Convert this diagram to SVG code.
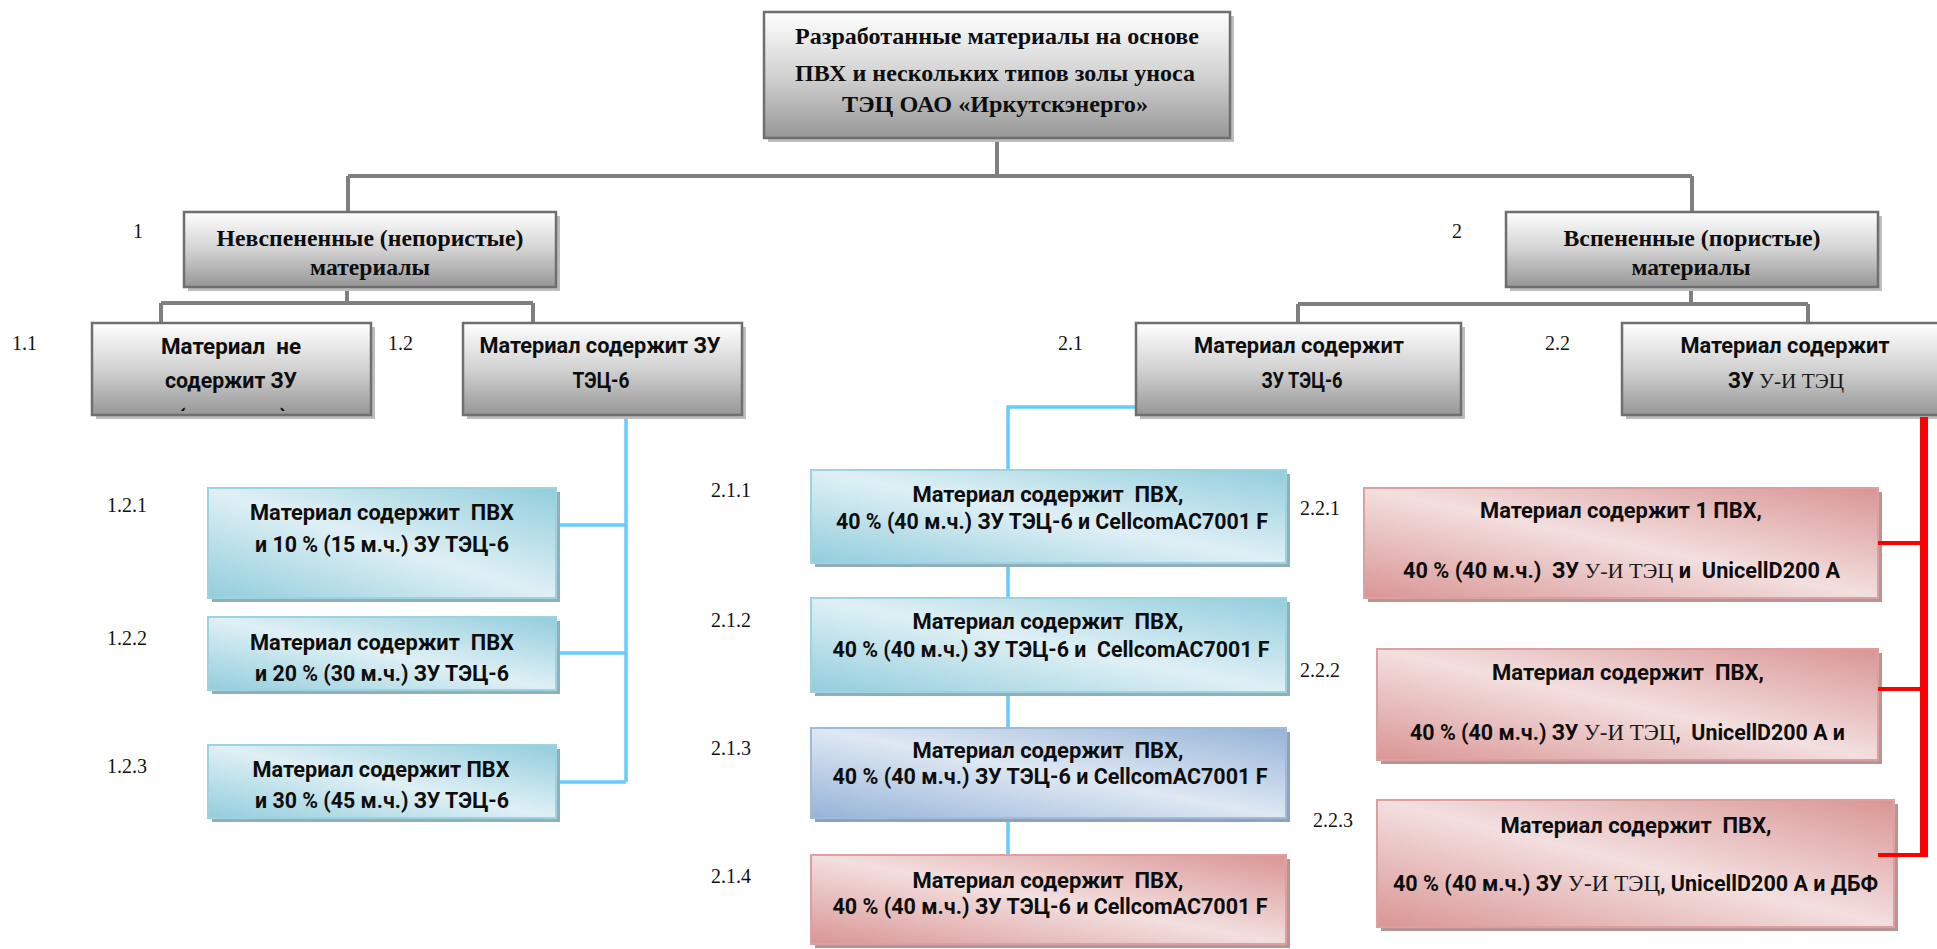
<svg xmlns="http://www.w3.org/2000/svg" width="1937" height="949" viewBox="0 0 1937 949">
<style>
text { white-space: pre; }
.sb { font-family: Roboto, "Liberation Sans", sans-serif; font-weight: 700; font-size: 21.5px; fill: #0d0d0d; }
.sr { font-family: "Liberation Serif", "DejaVu Serif", serif; font-weight: 400; fill: #1a1a1a; }
.tb { font-family: "Liberation Serif", "DejaVu Serif", serif; font-weight: 700; font-size: 23px; fill: #0d0d0d; }
.lbl { font-family: "Liberation Serif", "DejaVu Serif", serif; font-size: 20px; fill: #111; }
.gbox { fill: url(#gGray); stroke: #6f6f6f; stroke-width: 2.5; }
.gsh { fill: #bdbdbd; }
.tbox { fill: url(#gTeal); stroke: #9dd3e1; stroke-width: 2; }
.tsh { fill: #90afba; }
.bbox { fill: url(#gBlue); stroke: #9fbadb; stroke-width: 2; }
.bsh { fill: #8ea2bb; }
.pbox { fill: url(#gPink); stroke: #dca0a0; stroke-width: 2; }
.psh { fill: #b69595; }
.cg { fill: none; stroke: #7f7f7f; stroke-width: 4; }
.cb { fill: none; stroke: #66ccff; stroke-width: 3.5; }
.cr { fill: none; stroke: #ff0000; stroke-width: 4; }
</style>
<defs>
<linearGradient id="gGray" x1="0" y1="0" x2="0" y2="1">
<stop offset="0" stop-color="#ffffff"/>
<stop offset="0.5" stop-color="#d2d2d2"/>
<stop offset="1" stop-color="#979797"/>
</linearGradient>
<linearGradient id="gTeal" x1="0" y1="1" x2="1" y2="0">
<stop offset="0" stop-color="#92cddc"/>
<stop offset="0.5" stop-color="#dff0f5"/>
<stop offset="1" stop-color="#92cddc"/>
</linearGradient>
<linearGradient id="gBlue" x1="0" y1="1" x2="1" y2="0">
<stop offset="0" stop-color="#95b3d7"/>
<stop offset="0.5" stop-color="#dfe8f3"/>
<stop offset="1" stop-color="#95b3d7"/>
</linearGradient>
<linearGradient id="gPink" x1="0" y1="1" x2="1" y2="0">
<stop offset="0" stop-color="#d99594"/>
<stop offset="0.5" stop-color="#f3dfdf"/>
<stop offset="1" stop-color="#d99594"/>
</linearGradient>
<clipPath id="clip11"><rect x="92" y="323" width="279" height="88"/></clipPath>
</defs>

<g id="connectors">
<path class="cg" d="M997,140 V176 M348,176 H1692 M348,176 V212 M1692,176 V212"/>
<path class="cg" d="M347,289 V303 M161,303 H533 M161,303 V323 M533,303 V323"/>
<path class="cg" d="M1691,289 V304 M1298,304 H1808 M1298,304 V323 M1808,304 V323"/>
<path class="cb" d="M626,417 V782 M556,525 H626 M556,653 H626 M556,782 H626"/>
<path class="cb" d="M1136,407 H1008 V470 M1008,563 V598 M1008,692 V728 M1008,818 V855"/>
</g>

<g id="n-root">
<rect class="gsh" x="768" y="16" width="466" height="126"/>
<rect class="gbox" x="764" y="12" width="466" height="126"/>
<text class="tb" x="997" y="44" text-anchor="middle" textLength="404" lengthAdjust="spacingAndGlyphs">Разработанные материалы на основе</text>
<text class="tb" x="995" y="81" text-anchor="middle" textLength="400" lengthAdjust="spacingAndGlyphs">ПВХ и нескольких типов золы уноса</text>
<text class="tb" x="995" y="112" text-anchor="middle" textLength="306" lengthAdjust="spacingAndGlyphs">ТЭЦ ОАО «Иркутскэнерго»</text>
</g>

<g id="n-1">
<rect class="gsh" x="188" y="216" width="372" height="75"/>
<rect class="gbox" x="184" y="212" width="372" height="75"/>
<text class="tb" x="370" y="246" text-anchor="middle" textLength="307" lengthAdjust="spacingAndGlyphs">Невспененные (непористые)</text>
<text class="tb" x="370" y="275" text-anchor="middle" textLength="120" lengthAdjust="spacingAndGlyphs">материалы</text>
<text class="lbl" x="133" y="238">1</text>
</g>

<g id="n-2">
<rect class="gsh" x="1510" y="216" width="372" height="75"/>
<rect class="gbox" x="1506" y="212" width="372" height="75"/>
<text class="tb" x="1692" y="246" text-anchor="middle" textLength="257" lengthAdjust="spacingAndGlyphs">Вспененные (пористые)</text>
<text class="tb" x="1691" y="275" text-anchor="middle" textLength="119" lengthAdjust="spacingAndGlyphs">материалы</text>
<text class="lbl" x="1452" y="238">2</text>
</g>

<g id="n-1-1">
<rect class="gsh" x="96" y="327" width="279" height="92"/>
<rect class="gbox" x="92" y="323" width="279" height="92"/>
<text class="sb" x="231" y="354" text-anchor="middle" textLength="140" lengthAdjust="spacingAndGlyphs">Материал  не</text>
<text class="sb" x="231" y="388" text-anchor="middle" textLength="132" lengthAdjust="spacingAndGlyphs">содержит ЗУ</text>
<g clip-path="url(#clip11)">
<text class="sb" x="178" y="425">(</text>
<text class="sb" x="280" y="425">)</text>
</g>
<text class="lbl" x="12" y="350">1.1</text>
</g>

<g id="n-1-2">
<rect class="gsh" x="467" y="327" width="279" height="92"/>
<rect class="gbox" x="463" y="323" width="279" height="92"/>
<text class="sb" x="600" y="353" text-anchor="middle" textLength="241" lengthAdjust="spacingAndGlyphs">Материал содержит ЗУ</text>
<text class="sb" x="601" y="388" text-anchor="middle" textLength="57" lengthAdjust="spacingAndGlyphs">ТЭЦ-6</text>
<text class="lbl" x="388" y="350">1.2</text>
</g>

<g id="n-2-1">
<rect class="gsh" x="1140" y="327" width="325" height="92"/>
<rect class="gbox" x="1136" y="323" width="325" height="92"/>
<text class="sb" x="1299" y="353" text-anchor="middle" textLength="210" lengthAdjust="spacingAndGlyphs">Материал содержит</text>
<text class="sb" x="1302" y="388" text-anchor="middle" textLength="81" lengthAdjust="spacingAndGlyphs">ЗУ ТЭЦ-6</text>
<text class="lbl" x="1058" y="350">2.1</text>
</g>

<g id="n-2-2">
<rect class="gsh" x="1626" y="327" width="330" height="92"/>
<rect class="gbox" x="1622" y="323" width="330" height="92"/>
<text class="sb" x="1785" y="353" text-anchor="middle" textLength="209" lengthAdjust="spacingAndGlyphs">Материал содержит</text>
<text class="sb" x="1728" y="388" textLength="116" lengthAdjust="spacingAndGlyphs">ЗУ <tspan class="sr" font-size="22">У-И ТЭЦ</tspan></text>
<text class="lbl" x="1545" y="350">2.2</text>
</g>

<g id="n-1-2-1">
<rect class="tsh" x="212" y="492" width="348" height="110"/>
<rect class="tbox" x="208" y="488" width="348" height="110"/>
<text class="sb" x="382" y="520" text-anchor="middle" textLength="264" lengthAdjust="spacingAndGlyphs">Материал содержит  ПВХ</text>
<text class="sb" x="382" y="552" text-anchor="middle" textLength="254" lengthAdjust="spacingAndGlyphs">и 10 % (15 м.ч.) ЗУ ТЭЦ-6</text>
<text class="lbl" x="107" y="512">1.2.1</text>
</g>

<g id="n-1-2-2">
<rect class="tsh" x="212" y="621" width="348" height="73"/>
<rect class="tbox" x="208" y="617" width="348" height="73"/>
<text class="sb" x="382" y="650" text-anchor="middle" textLength="264" lengthAdjust="spacingAndGlyphs">Материал содержит  ПВХ</text>
<text class="sb" x="382" y="681" text-anchor="middle" textLength="254" lengthAdjust="spacingAndGlyphs">и 20 % (30 м.ч.) ЗУ ТЭЦ-6</text>
<text class="lbl" x="107" y="645">1.2.2</text>
</g>

<g id="n-1-2-3">
<rect class="tsh" x="212" y="749" width="348" height="73"/>
<rect class="tbox" x="208" y="745" width="348" height="73"/>
<text class="sb" x="381" y="777" text-anchor="middle" textLength="257" lengthAdjust="spacingAndGlyphs">Материал содержит ПВХ</text>
<text class="sb" x="382" y="808" text-anchor="middle" textLength="254" lengthAdjust="spacingAndGlyphs">и 30 % (45 м.ч.) ЗУ ТЭЦ-6</text>
<text class="lbl" x="107" y="773">1.2.3</text>
</g>

<g id="n-2-1-1">
<rect class="tsh" x="815" y="474" width="475" height="93"/>
<rect class="tbox" x="811" y="470" width="475" height="93"/>
<text class="sb" x="1048" y="502" text-anchor="middle" textLength="271" lengthAdjust="spacingAndGlyphs">Материал содержит  ПВХ,</text>
<text class="sb" x="1052" y="529" text-anchor="middle" textLength="432" lengthAdjust="spacingAndGlyphs">40 % (40 м.ч.) ЗУ ТЭЦ-6 и CellcomAC7001 F</text>
<text class="lbl" x="711" y="497">2.1.1</text>
</g>

<g id="n-2-1-2">
<rect class="tsh" x="815" y="602" width="475" height="94"/>
<rect class="tbox" x="811" y="598" width="475" height="94"/>
<text class="sb" x="1048" y="629" text-anchor="middle" textLength="271" lengthAdjust="spacingAndGlyphs">Материал содержит  ПВХ,</text>
<text class="sb" x="1051" y="657" text-anchor="middle" textLength="437" lengthAdjust="spacingAndGlyphs">40 % (40 м.ч.) ЗУ ТЭЦ-6 и  CellcomAC7001 F</text>
<text class="lbl" x="711" y="627">2.1.2</text>
</g>

<g id="n-2-1-3">
<rect class="bsh" x="815" y="732" width="475" height="90"/>
<rect class="bbox" x="811" y="728" width="475" height="90"/>
<text class="sb" x="1048" y="758" text-anchor="middle" textLength="271" lengthAdjust="spacingAndGlyphs">Материал содержит  ПВХ,</text>
<text class="sb" x="1050" y="784" text-anchor="middle" textLength="435" lengthAdjust="spacingAndGlyphs">40 % (40 м.ч.) ЗУ ТЭЦ-6 и CellcomAC7001 F</text>
<text class="lbl" x="711" y="755">2.1.3</text>
</g>

<g id="n-2-1-4">
<rect class="psh" x="815" y="859" width="475" height="89"/>
<rect class="pbox" x="811" y="855" width="475" height="89"/>
<text class="sb" x="1048" y="888" text-anchor="middle" textLength="271" lengthAdjust="spacingAndGlyphs">Материал содержит  ПВХ,</text>
<text class="sb" x="1050" y="914" text-anchor="middle" textLength="435" lengthAdjust="spacingAndGlyphs">40 % (40 м.ч.) ЗУ ТЭЦ-6 и CellcomAC7001 F</text>
<text class="lbl" x="711" y="883">2.1.4</text>
</g>

<g id="n-2-2-1">
<rect class="psh" x="1368" y="492" width="514" height="110"/>
<rect class="pbox" x="1364" y="488" width="514" height="110"/>
<text class="sb" x="1621" y="518" text-anchor="middle" textLength="282" lengthAdjust="spacingAndGlyphs">Материал содержит 1 ПВХ,</text>
<text class="sb" x="1403" y="578" textLength="437" lengthAdjust="spacingAndGlyphs">40 % (40 м.ч.)  ЗУ <tspan class="sr" font-size="22">У-И ТЭЦ</tspan> и  UnicellD200 A</text>
<text class="lbl" x="1300" y="515">2.2.1</text>
</g>

<g id="n-2-2-2">
<rect class="psh" x="1381" y="653" width="501" height="111"/>
<rect class="pbox" x="1377" y="649" width="501" height="111"/>
<text class="sb" x="1628" y="680" text-anchor="middle" textLength="272" lengthAdjust="spacingAndGlyphs">Материал содержит  ПВХ,</text>
<text class="sb" x="1410" y="740" textLength="435" lengthAdjust="spacingAndGlyphs">40 % (40 м.ч.) ЗУ <tspan class="sr" font-size="23">У-И ТЭЦ</tspan>,  UnicellD200 A и</text>
<text class="lbl" x="1300" y="677">2.2.2</text>
</g>

<g id="n-2-2-3">
<rect class="psh" x="1381" y="804" width="517" height="127"/>
<rect class="pbox" x="1377" y="800" width="517" height="127"/>
<text class="sb" x="1636" y="833" text-anchor="middle" textLength="271" lengthAdjust="spacingAndGlyphs">Материал содержит  ПВХ,</text>
<text class="sb" x="1393" y="891" textLength="485" lengthAdjust="spacingAndGlyphs">40 % (40 м.ч.) ЗУ <tspan class="sr" font-size="23">У-И ТЭЦ</tspan>, UnicellD200 A и ДБФ</text>
<text class="lbl" x="1313" y="827">2.2.3</text>
</g>

<g id="connectors-red">
<path class="cr" d="M1924,417 V857" style="stroke-width:8"/>
<path class="cr" d="M1878,543 H1924 M1878,689 H1924 M1878,855 H1924"/>
</g>
</svg>
